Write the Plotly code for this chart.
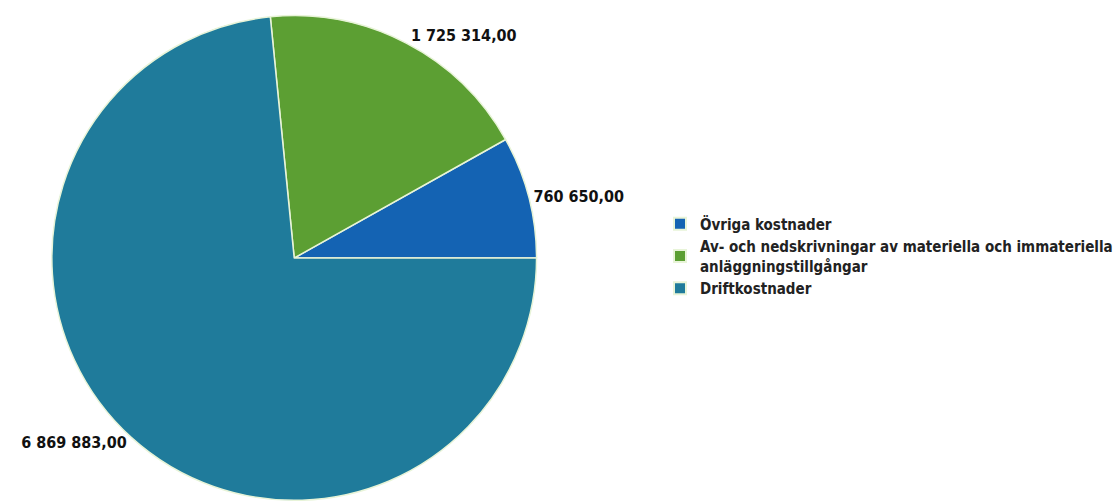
import plotly.graph_objects as go

categories = ["Övriga kostnader",
              "Av- och nedskrivningar av materiella och immateriella<br>anläggningstillgångar",
              "Driftkostnader"]
values = [760650.00, 1725314.00, 6869883.00]
colors = ["#1463b3", "#5c9f33", "#1f7b9b"]


def fmt(v):
    s = f"{v:,.2f}"
    return s.replace(",", " ").replace(".", ",")


labels_text = [fmt(v) for v in values]

W, H = 1118, 502
cx, cy, r = 295, 258, 243

# first slice starts at 3 o'clock and runs counterclockwise
first_frac = values[0] / sum(values)
rotation = 90 - first_frac * 360

fig = go.Figure(go.Pie(
    labels=categories,
    values=values,
    text=labels_text,
    textinfo="text",
    textposition="outside",
    sort=False,
    direction="counterclockwise",
    rotation=rotation,
    marker=dict(colors=colors, line=dict(color="#e8f4d8", width=1.5)),
    outsidetextfont=dict(family="DejaVu Sans Condensed", size=16, color="#111111", weight="bold"),
    domain=dict(x=[(cx - r) / W, (cx + r) / W], y=[(H - (cy + r)) / H, (H - (cy - r)) / H]),
    showlegend=True,
    automargin=False,
))

fig.update_layout(
    width=W, height=H,
    margin=dict(l=0, r=0, t=0, b=0),
    paper_bgcolor="white",
    plot_bgcolor="white",
    legend=dict(x=0.592, y=0.49, xanchor="left", yanchor="middle",
                font=dict(family="DejaVu Sans Condensed", size=15, color="#222222", weight="bold"),
                tracegroupgap=0, itemsizing="constant"),
)

fig.write_html("out.html")
